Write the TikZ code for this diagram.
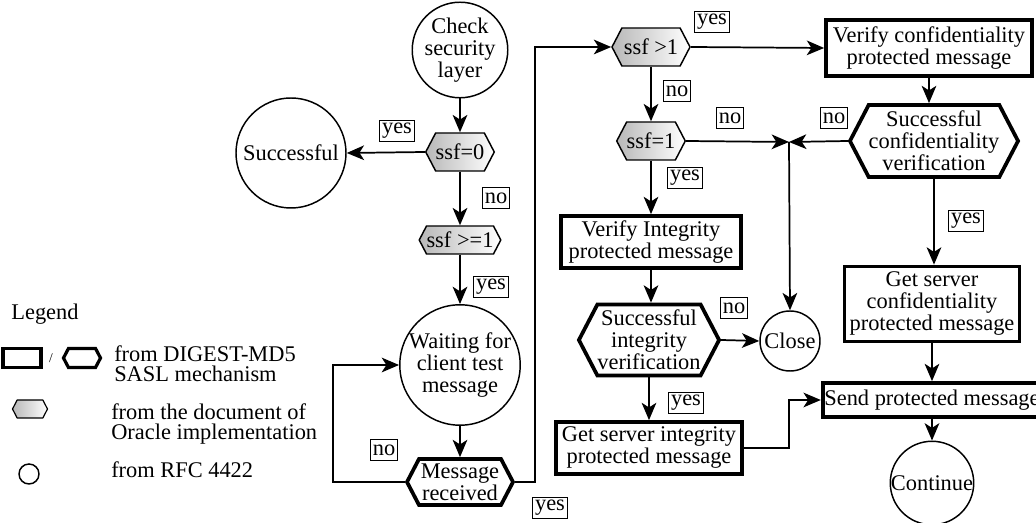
\documentclass[tikz,border=0pt]{standalone}
\usepackage{fontspec}
\setmainfont{Liberation Serif}
\usetikzlibrary{shapes.symbols,arrows.meta}

\begin{document}
\begin{tikzpicture}[x=0.75pt,y=-0.75pt,
  font=\fontsize{16.8}{16.5}\selectfont,
  every node/.style={align=center,inner sep=0pt},
  flow/.style={line width=1.3pt,-{Stealth[length=13pt,width=11pt,inset=3.5pt]}},
  rfc/.style={circle,draw,line width=1.1pt},
  digest/.style={rectangle,draw,line width=2.8pt},
  digesthex/.style={signal,signal to=east and west,signal pointer angle=125,draw,line width=2.8pt},
  oracle/.style={signal,signal to=east and west,signal pointer angle=125,draw,line width=1.1pt,
                 left color=black!28,right color=white},
  tag/.style={rectangle,draw,line width=0.9pt,inner xsep=2pt,minimum height=16pt},
  legendtext/.style={align=left,anchor=west,font=\fontsize{16.8}{15.2}\selectfont}]

\useasboundingbox (0,0) rectangle (1036,523);

% left column: security layer check
\node[rfc,minimum size=64.5pt] (chk) at (460,50) {Check\\security\\layer};
\node[oracle,minimum width=49.5pt,minimum height=28.5pt] (ssf0) at (460,152) {ssf=0};
\node[rfc,minimum size=82.5pt] (succ) at (291,153) {Successful};
\node[oracle,minimum width=58.5pt,minimum height=21pt] (ssfge) at (460,240) {ssf >=1};
\node[rfc,minimum size=87pt] (wait) at (460,365) {Waiting for\\client test\\message};
\node[digesthex,minimum width=79.5pt,minimum height=34.5pt] (msg) at (460,482) {Message\\received};

\coordinate (loopx) at (333,420);
\coordinate (risex) at (535,300);

% middle column: integrity
\node[oracle,minimum width=58.5pt,minimum height=28.5pt] (ssfg1) at (651,47) {ssf >1};
\node[oracle,minimum width=49.5pt,minimum height=28.5pt] (ssfe1) at (651,141) {ssf=1};
\node[digest,minimum width=135pt,minimum height=39pt] (vint) at (651,242) {Verify Integrity\\protected message};
\node[digesthex,minimum width=103.5pt,minimum height=53.25pt] (sint) at (649,340) {Successful\\integrity\\verification};
\node[digest,minimum width=139.5pt,minimum height=39pt] (gint) at (649,448) {Get server integrity\\protected message};

\coordinate (join) at (789,142);
\node[rfc,minimum size=45pt] (close) at (790,341) {Close};

% right column: confidentiality
\node[digest,minimum width=154.5pt,minimum height=42pt] (vconf) at (929,48) {Verify confidentiality\\protected message};
\node[digesthex,minimum width=111.75pt,minimum height=54pt] (sconf) at (934,141) {Successful\\confidentiality\\verification};
\node[digest,minimum width=131.25pt,minimum height=56.25pt] (gconf) at (932,304) {Get server\\confidentiality\\protected message};
\node[digest,minimum width=164pt,minimum height=25.5pt] (send) at (932,400) {Send protected message};
\node[rfc,minimum size=61.5pt] (cont) at (932,483) {Continue};

% connectors
\draw[flow] (chk.south) -- (ssf0.north);
\draw[flow] (ssf0.west) -- (succ.east);
\draw[flow] (ssf0.south) -- (ssfge.north);
\draw[flow] (ssfge.south) -- (wait.north);
\draw[flow] (wait.south) -- (msg.north);
\draw[flow] (msg.west) -- (loopx |- msg.west) |- (wait.west);
\draw[flow] (msg.east) -- (risex |- msg.east) |- (ssfg1.west);
\draw[flow] (ssfg1.east) -- (vconf.west);
\draw[flow] (ssfg1.south) -- (ssfe1.north);
\draw[flow] (ssfe1.east) -- (join);
\draw[flow] (sconf.west) -- (join);
\draw[flow] (join) -- (close.north);
\draw[flow] (ssfe1.south) -- (vint.north);
\draw[flow] (vint.south) -- (vint.south |- sint.north);
\draw[flow] (sint.east) -- (close.west);
\draw[flow] (sint.south) -- (gint.north);
\draw[flow] (gint.east) -- (join |- gint.east) |- (send.west);
\draw[flow] (vconf.south) -- (sconf.north -| vconf.south);
\draw[flow] (sconf.south) -- (gconf.north -| sconf.south);
\draw[flow] (gconf.south) -- (send.north -| gconf.south);
\draw[flow] (cont.north |- send.south) -- (cont.north);

% branch labels
\node[tag] (l1) at (397,131) {yes};
\node[tag] (l2) at (496,198) {no};
\node[tag] (l3) at (491,287) {yes};
\node[tag] (l4) at (384,450) {no};
\node[tag] (l5) at (550,508) {yes};
\node[tag] (l6) at (712,22) {yes};
\node[tag] (l7) at (677,91) {no};
\node[tag] (l8) at (730,118) {no};
\node[tag] (l9) at (685,178) {yes};
\node[tag] (l10) at (834,118) {no};
\node[tag] (l11) at (966,221) {yes};
\node[tag] (l12) at (734,308) {no};
\node[tag] (l13) at (686,403) {yes};

% legend
\node (legtitle) at (45,314) {Legend};
\node[digest,minimum width=28.5pt,minimum height=14.25pt,line width=2.4pt] (legrect) at (22,358) {};
\node[font=\fontsize{10}{10}\selectfont] (legslash) at (51,358) {/};
\node[digesthex,minimum width=27.75pt,minimum height=14.25pt,line width=2.4pt] (leghex) at (82,358) {};
\node[legendtext] (legt1) at (114,364) {from DIGEST-MD5\\SASL mechanism};
\node[oracle,minimum width=26.25pt,minimum height=13.5pt,line width=0.9pt] (leggrey) at (30,409) {};
\node[legendtext] (legt2) at (111,424) {from the document of\\Oracle implementation};
\node[rfc,minimum size=15pt] (legcirc) at (29,474) {};
\node[legendtext] (legt3) at (111,470) {from RFC 4422};

\end{tikzpicture}
\end{document}
